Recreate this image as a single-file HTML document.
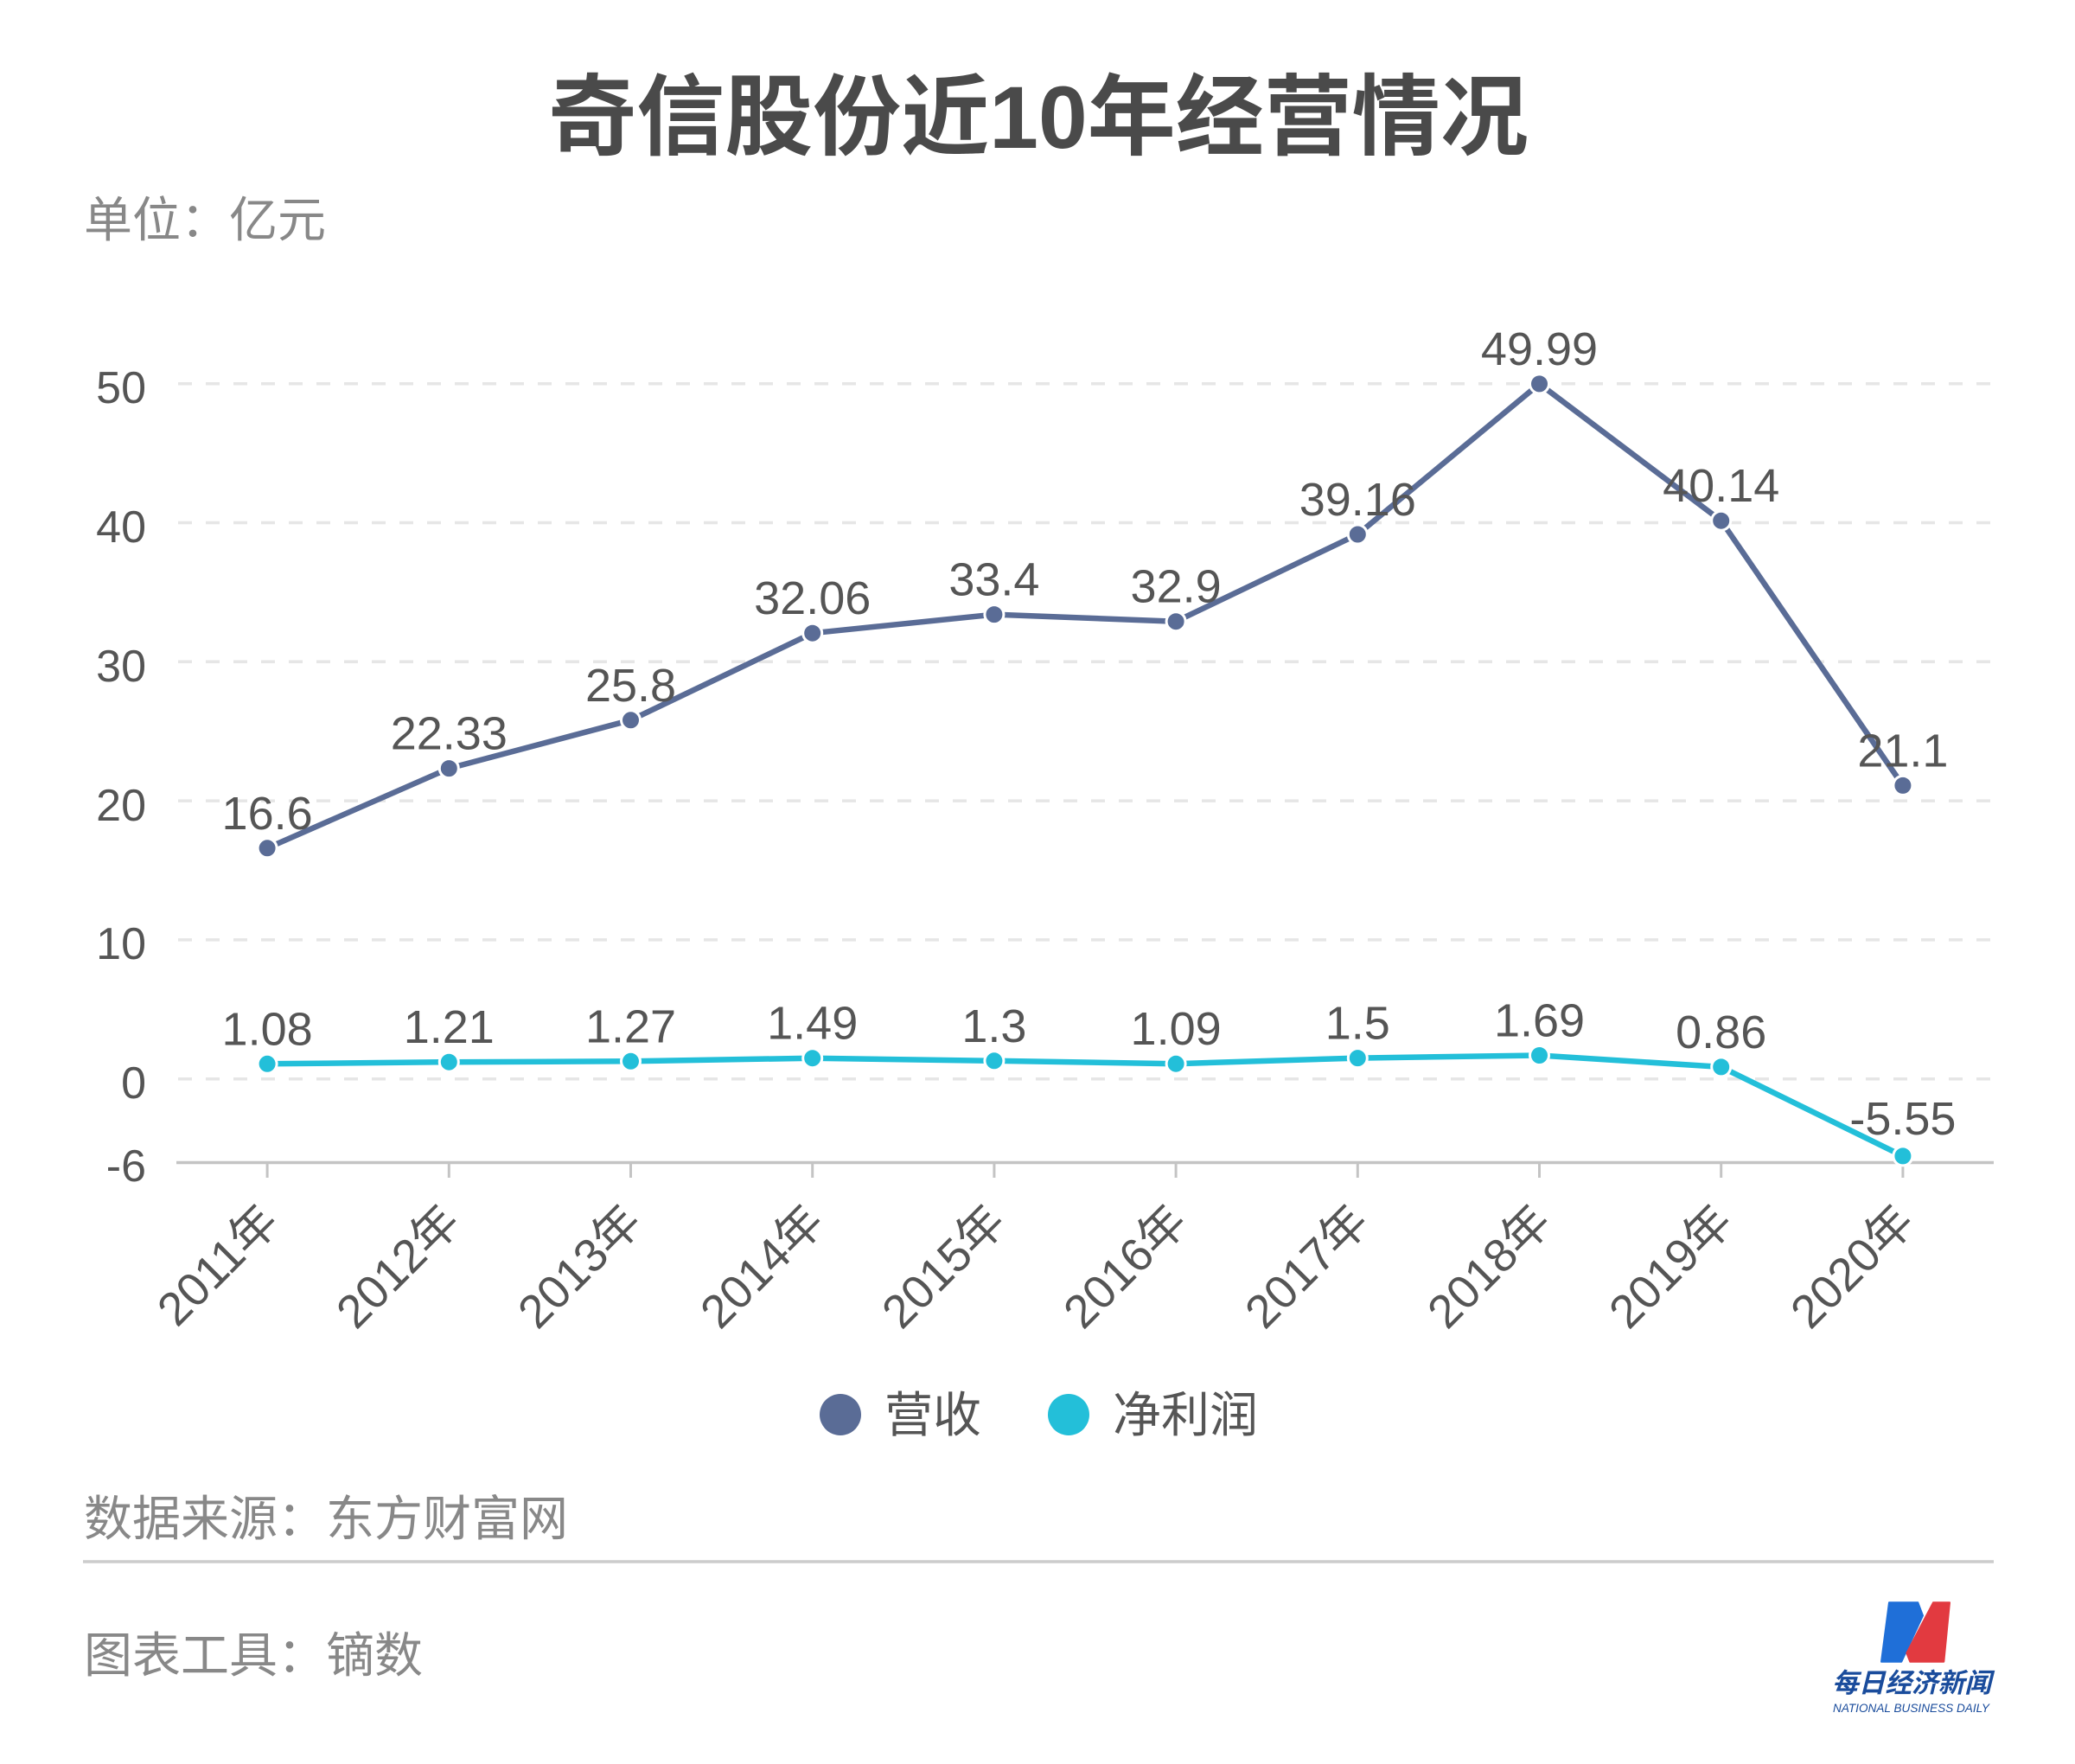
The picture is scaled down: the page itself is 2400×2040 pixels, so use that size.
<!DOCTYPE html>
<html><head><meta charset="utf-8"><style>
html,body{margin:0;padding:0;background:#fff;}
svg{display:block;}
text{font-family:"Liberation Sans","Noto Sans CJK SC",sans-serif;}
</style></head><body>
<svg width="2400" height="2040" viewBox="0 0 2400 2040" xmlns="http://www.w3.org/2000/svg">
<rect width="2400" height="2040" fill="#fff"/>
<text x="1201" y="171" font-size="102" font-weight="bold" fill="#4a4a4a" text-anchor="middle">奇信股份近10年经营情况</text>
<text x="97" y="274" font-size="56" fill="#888">单位：亿元</text>

<g stroke="#e6e6e6" stroke-width="3.5" stroke-dasharray="16 16">
<line x1="206" y1="443.7" x2="2306" y2="443.7"/>
<line x1="206" y1="604.5" x2="2306" y2="604.5"/>
<line x1="206" y1="765.3" x2="2306" y2="765.3"/>
<line x1="206" y1="926.1" x2="2306" y2="926.1"/>
<line x1="206" y1="1086.9" x2="2306" y2="1086.9"/>
<line x1="206" y1="1247.7" x2="2306" y2="1247.7"/>
</g>
<g font-size="52" fill="#555" text-anchor="end">
<text x="169" y="466">50</text>
<text x="169" y="627">40</text>
<text x="169" y="788">30</text>
<text x="169" y="949">20</text>
<text x="169" y="1109">10</text>
<text x="169" y="1270">0</text>
<text x="169" y="1366">-6</text>
</g>
<line x1="204" y1="1344.5" x2="2306" y2="1344.5" stroke="#c4c4c4" stroke-width="3.5"/>
<g stroke="#c4c4c4" stroke-width="3">
<line x1="309.1" y1="1344" x2="309.1" y2="1362"/>
<line x1="519.3" y1="1344" x2="519.3" y2="1362"/>
<line x1="729.5" y1="1344" x2="729.5" y2="1362"/>
<line x1="939.7" y1="1344" x2="939.7" y2="1362"/>
<line x1="1149.9" y1="1344" x2="1149.9" y2="1362"/>
<line x1="1360.1" y1="1344" x2="1360.1" y2="1362"/>
<line x1="1570.3" y1="1344" x2="1570.3" y2="1362"/>
<line x1="1780.5" y1="1344" x2="1780.5" y2="1362"/>
<line x1="1990.7" y1="1344" x2="1990.7" y2="1362"/>
<line x1="2200.9" y1="1344" x2="2200.9" y2="1362"/>
</g>
<g font-size="54" fill="#555" text-anchor="end">
<text transform="translate(325,1416) rotate(-45)">2011年</text>
<text transform="translate(535,1416) rotate(-45)">2012年</text>
<text transform="translate(745,1416) rotate(-45)">2013年</text>
<text transform="translate(956,1416) rotate(-45)">2014年</text>
<text transform="translate(1166,1416) rotate(-45)">2015年</text>
<text transform="translate(1376,1416) rotate(-45)">2016年</text>
<text transform="translate(1586,1416) rotate(-45)">2017年</text>
<text transform="translate(1797,1416) rotate(-45)">2018年</text>
<text transform="translate(2007,1416) rotate(-45)">2019年</text>
<text transform="translate(2217,1416) rotate(-45)">2020年</text>
</g>

<!-- 营收 -->
<polyline fill="none" stroke="#5a6c96" stroke-width="6.5" stroke-linejoin="round"
points="309.1,980.8 519.3,888.6 729.5,832.8 939.7,732.2 1149.9,710.6 1360.1,718.7 1570.3,618.0 1780.5,443.9 1990.7,602.2 2200.9,908.4"/>
<g fill="#5a6c96" stroke="#fff" stroke-width="3">
<circle cx="309.1" cy="980.8" r="11"/>
<circle cx="519.3" cy="888.6" r="11"/>
<circle cx="729.5" cy="832.8" r="11"/>
<circle cx="939.7" cy="732.2" r="11"/>
<circle cx="1149.9" cy="710.6" r="11"/>
<circle cx="1360.1" cy="718.7" r="11"/>
<circle cx="1570.3" cy="618.0" r="11"/>
<circle cx="1780.5" cy="443.9" r="11"/>
<circle cx="1990.7" cy="602.2" r="11"/>
<circle cx="2200.9" cy="908.4" r="11"/>
</g>
<g font-size="54" fill="#555" text-anchor="middle">
<text x="309.1" y="958.8">16.6</text>
<text x="519.3" y="866.6">22.33</text>
<text x="729.5" y="810.8">25.8</text>
<text x="939.7" y="710.2">32.06</text>
<text x="1149.9" y="688.6">33.4</text>
<text x="1360.1" y="696.7">32.9</text>
<text x="1570.3" y="596.0">39.16</text>
<text x="1780.5" y="421.9">49.99</text>
<text x="1990.7" y="580.2">40.14</text>
<text x="2200.9" y="886.4">21.1</text>
</g>

<!-- 净利润 -->
<polyline fill="none" stroke="#23bfd9" stroke-width="6.5" stroke-linejoin="round"
points="309.1,1230.3 519.3,1228.2 729.5,1227.3 939.7,1223.7 1149.9,1226.8 1360.1,1230.2 1570.3,1223.6 1780.5,1220.5 1990.7,1233.9 2200.9,1336.9"/>
<g fill="#23bfd9" stroke="#fff" stroke-width="3">
<circle cx="309.1" cy="1230.3" r="11"/>
<circle cx="519.3" cy="1228.2" r="11"/>
<circle cx="729.5" cy="1227.3" r="11"/>
<circle cx="939.7" cy="1223.7" r="11"/>
<circle cx="1149.9" cy="1226.8" r="11"/>
<circle cx="1360.1" cy="1230.2" r="11"/>
<circle cx="1570.3" cy="1223.6" r="11"/>
<circle cx="1780.5" cy="1220.5" r="11"/>
<circle cx="1990.7" cy="1233.9" r="11"/>
<circle cx="2200.9" cy="1336.9" r="11"/>
</g>
<g font-size="54" fill="#555" text-anchor="middle">
<text x="309.1" y="1208.3">1.08</text>
<text x="519.3" y="1206.2">1.21</text>
<text x="729.5" y="1205.3">1.27</text>
<text x="939.7" y="1201.7">1.49</text>
<text x="1149.9" y="1204.8">1.3</text>
<text x="1360.1" y="1208.2">1.09</text>
<text x="1570.3" y="1201.6">1.5</text>
<text x="1780.5" y="1198.5">1.69</text>
<text x="1990.7" y="1211.9">0.86</text>
<text x="2200.9" y="1312">-5.55</text>
</g>

<!-- legend -->
<circle cx="972" cy="1636" r="24" fill="#5a6c96"/>
<text x="1023" y="1656" font-size="56" fill="#555">营收</text>
<circle cx="1236" cy="1636" r="24" fill="#23bfd9"/>
<text x="1287" y="1656" font-size="56" fill="#555">净利润</text>

<!-- footer -->
<text x="97" y="1776" font-size="56" fill="#888">数据来源：东方财富网</text>
<line x1="96" y1="1806" x2="2306" y2="1806" stroke="#cccccc" stroke-width="3.5"/>
<text x="97" y="1934" font-size="56" fill="#888">图表工具：镝数</text>

<!-- logo -->
<polygon points="2185,1853.3 2218.3,1853.3 2224,1868.3 2199.3,1921.7 2176,1921.7" fill="#1f6fd8" stroke="#1f6fd8" stroke-width="2" stroke-linejoin="round"/>
<polygon points="2236,1853.3 2255,1853.3 2248.3,1921.7 2209.3,1921.7 2205.3,1911.7" fill="#e23a40" stroke="#e23a40" stroke-width="2" stroke-linejoin="round"/>
<text x="2211" y="1957" font-size="31" font-weight="bold" font-style="italic" fill="#1a4c9c" text-anchor="middle" textLength="184" lengthAdjust="spacingAndGlyphs">每日经济新闻</text>
<text x="2120" y="1980" font-size="14" font-style="italic" fill="#1a4c9c" textLength="181" lengthAdjust="spacingAndGlyphs">NATIONAL BUSINESS DAILY</text>
</svg>
</body></html>
